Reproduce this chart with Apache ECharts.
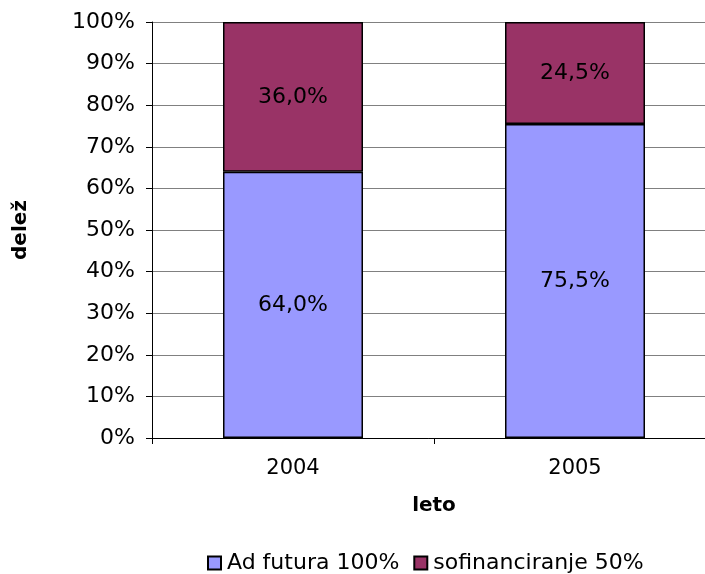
<!DOCTYPE html>
<html><head><meta charset="utf-8">
<script src="https://cdn.jsdelivr.net/npm/echarts@6/dist/echarts.min.js"></script>
<style>html,body{margin:0;padding:0;background:#fff}#c{width:705px;height:574px}</style>
</head><body><div id="c"></div>
<script>
const categories = ['2004', '2005'];
const adFutura = [64.0, 75.5];
const sofinanciranje = [36.0, 24.5];
const seriesNames = ['Ad futura 100%', 'sofinanciranje 50%'];
const yTicks = [0, 10, 20, 30, 40, 50, 60, 70, 80, 90, 100];

const font = 'DejaVu Sans, Verdana, sans-serif';
const fmt = p => p.value.toFixed(1).replace('.', ',') + '%';
const chart = echarts.init(document.getElementById('c'), null, {renderer: 'canvas'});
chart.setOption({
  animation: false,
  textStyle: {fontFamily: font},
  grid: {left: 152, top: 22, width: 564, height: 416, containLabel: false, outerBoundsMode: 'none'},
  legend: {
    top: 552, left: 207, itemWidth: 13, itemHeight: 13, itemGap: 14, padding: 0,
    textStyle: {fontSize: 22, color: '#000', fontFamily: font, padding: [0, 0, 0, 1]},
    data: seriesNames.map(n => ({name: n, icon: 'rect'}))
  },
  xAxis: {
    type: 'category', data: categories,
    name: 'leto', nameLocation: 'middle', nameGap: 58,
    nameTextStyle: {fontSize: 20, fontWeight: 'bold', color: '#000', fontFamily: font},
    axisLine: {lineStyle: {color: '#000', width: 1}},
    axisTick: {show: true, length: 6, lineStyle: {color: '#000'}},
    axisLabel: {fontSize: 21, color: '#000', margin: 20, fontFamily: font}
  },
  yAxis: {
    type: 'value', min: 0, max: 100, interval: 10,
    name: 'delež', nameLocation: 'middle', nameGap: 121, nameRotate: 90,
    nameTextStyle: {fontSize: 20, fontWeight: 'bold', color: '#000', fontFamily: font},
    axisLine: {show: true, lineStyle: {color: '#000', width: 1}},
    axisTick: {show: true, length: 6, lineStyle: {color: '#000'}},
    axisLabel: {fontSize: 22, color: '#000', margin: 17, formatter: '{value}%', fontFamily: font},
    splitLine: {lineStyle: {color: '#808080', width: 1}}
  },
  series: [
    {
      name: seriesNames[0], type: 'bar', stack: 's', data: adFutura, barWidth: 140,
      itemStyle: {color: '#9999FF', borderColor: '#000', borderWidth: 1.5},
      label: {show: true, position: 'inside', formatter: fmt, fontSize: 22, color: '#000', fontFamily: font}
    },
    {
      name: seriesNames[1], type: 'bar', stack: 's', data: sofinanciranje, barWidth: 140,
      itemStyle: {color: '#993366', borderColor: '#000', borderWidth: 1.5},
      label: {show: true, position: 'inside', formatter: fmt, fontSize: 22, color: '#000', fontFamily: font}
    }
  ]
});
</script></body></html>
